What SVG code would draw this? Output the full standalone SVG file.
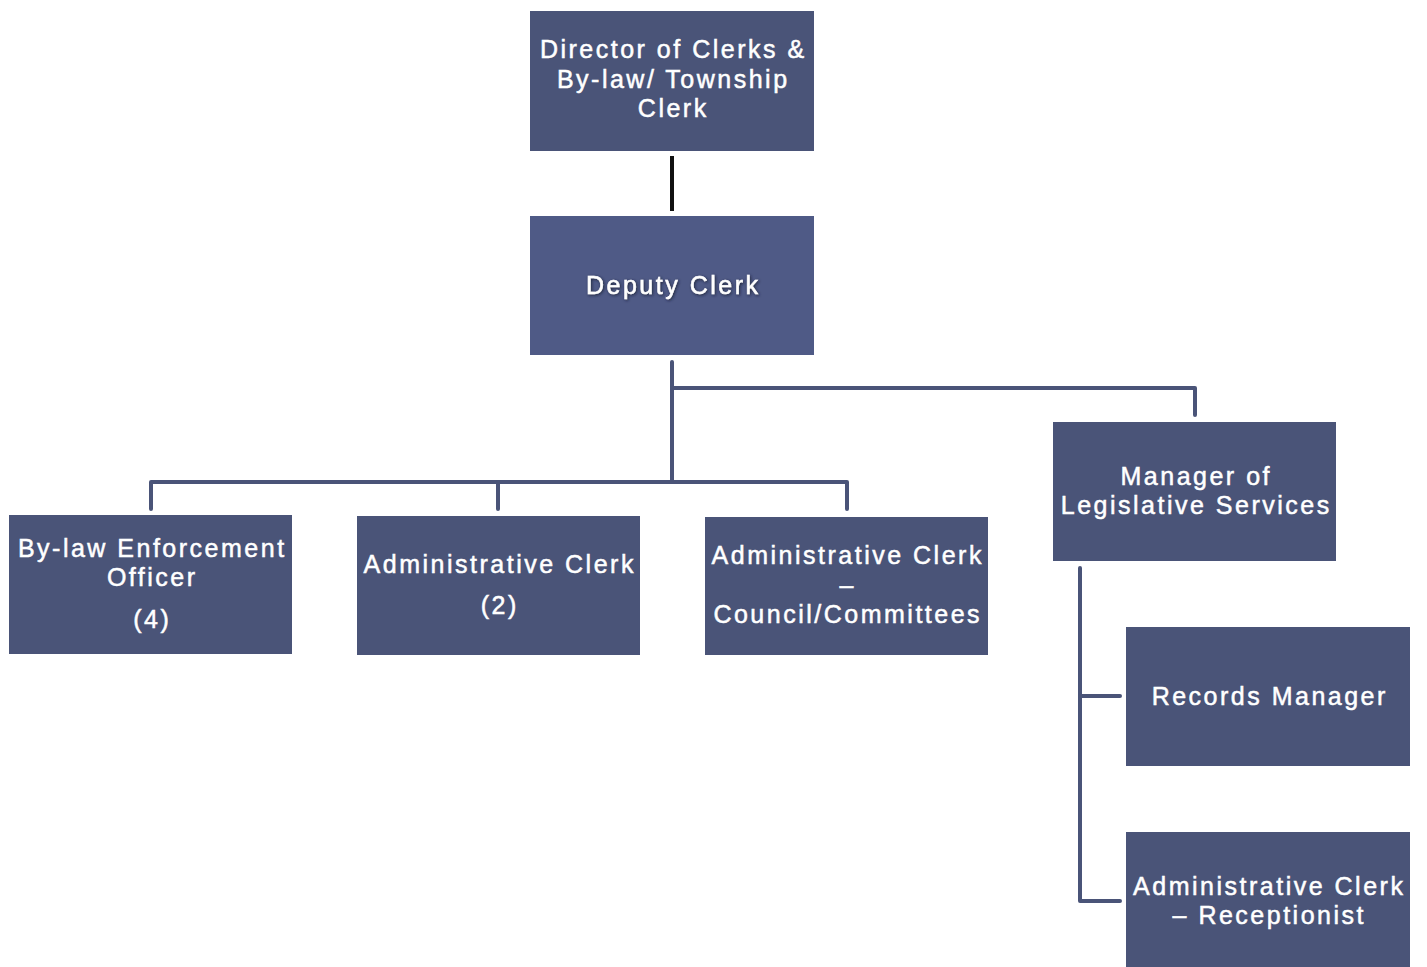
<svg xmlns="http://www.w3.org/2000/svg" width="1427" height="967" viewBox="0 0 1427 967">
<defs>
<style>
.box{fill:#4a5478;}
.dep{fill:#4f5a86;}
.t{font-family:"Liberation Sans",Arial,sans-serif;font-size:25px;fill:#ffffff;stroke:#ffffff;stroke-width:0.5px;text-anchor:middle;letter-spacing:2.5px;}
.c{fill:none;stroke:#4a5478;stroke-width:4;stroke-linejoin:round;stroke-linecap:round;}
</style>
<filter id="glow" x="-20%" y="-50%" width="140%" height="200%">
<feGaussianBlur in="SourceAlpha" stdDeviation="1.5"/>
<feOffset dx="1" dy="1" result="b"/>
<feFlood flood-color="#1a1f33" flood-opacity="0.9"/>
<feComposite in2="b" operator="in"/>
<feMerge><feMergeNode/><feMergeNode in="SourceGraphic"/></feMerge>
</filter>
</defs>
<rect width="1427" height="967" fill="#ffffff"/>
<g id="connectors">
<line x1="672" y1="156" x2="672" y2="211" stroke="#111111" stroke-width="4"/>
<path class="c" d="M672,362 V482"/>
<path class="c" d="M672,388 H1195 V415"/>
<path class="c" d="M151,509 V482 H847 V509"/>
<path class="c" d="M498,482 V509"/>
<path class="c" d="M1080,568 V901 H1120"/>
<path class="c" d="M1080,696 H1120"/>
</g>
<g id="director">
<rect class="box" x="530" y="11" width="284" height="140"/>
<text class="t" x="673.25" y="58">Director of Clerks &amp;</text>
<text class="t" x="673.25" y="88">By-law/ Township</text>
<text class="t" x="673.25" y="117">Clerk</text>
</g>
<g id="deputy">
<rect class="dep" x="530" y="216" width="284" height="139"/>
<text class="t" x="673.25" y="294" filter="url(#glow)">Deputy Clerk</text>
</g>
<g id="bylaw">
<rect class="box" x="9" y="515" width="283" height="139"/>
<text class="t" x="152.25" y="557">By-law Enforcement</text>
<text class="t" x="152.25" y="586">Officer</text>
<text class="t" x="152.25" y="628">(4)</text>
</g>
<g id="admin2">
<rect class="box" x="357" y="516" width="283" height="139"/>
<text class="t" x="499.75" y="573">Administrative Clerk</text>
<text class="t" x="499.75" y="614">(2)</text>
</g>
<g id="adminCouncil">
<rect class="box" x="705" y="517" width="283" height="138"/>
<text class="t" x="847.75" y="564">Administrative Clerk</text>
<text class="t" x="847.75" y="594">–</text>
<text class="t" x="847.75" y="623">Council/Committees</text>
</g>
<g id="manager">
<rect class="box" x="1053" y="422" width="283" height="139"/>
<text class="t" x="1196.25" y="485">Manager of</text>
<text class="t" x="1196.25" y="514">Legislative Services</text>
</g>
<g id="records">
<rect class="box" x="1126" y="627" width="284" height="139"/>
<text class="t" x="1269.75" y="705">Records Manager</text>
</g>
<g id="receptionist">
<rect class="box" x="1126" y="832" width="284" height="135"/>
<text class="t" x="1269.25" y="895">Administrative Clerk</text>
<text class="t" x="1269.25" y="924">– Receptionist</text>
</g>
</svg>
